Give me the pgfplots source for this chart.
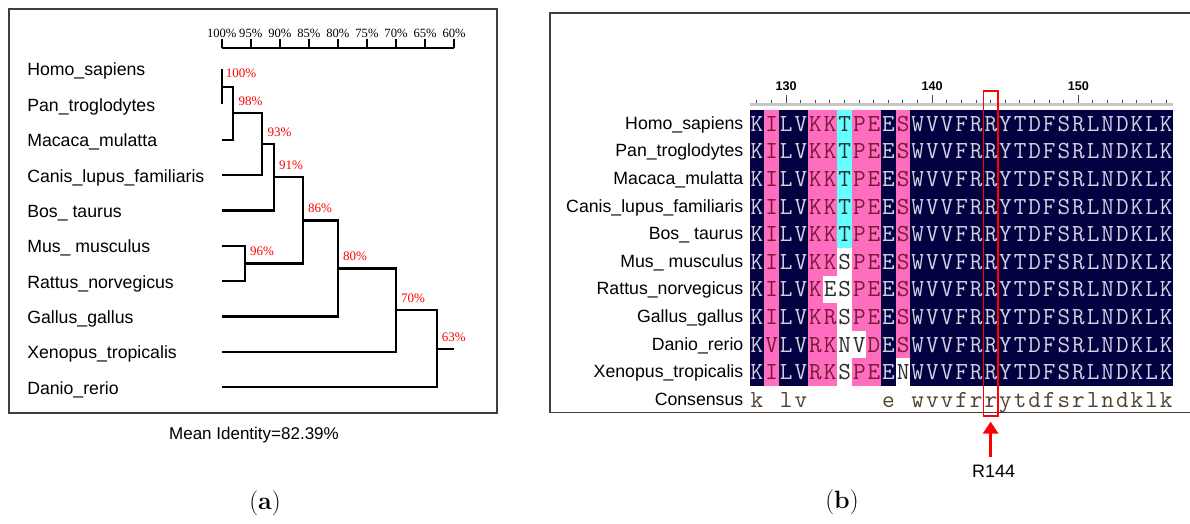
\documentclass[border=0pt]{standalone}
\usepackage{pgfplots}
\pgfplotsset{compat=1.18}
\usepackage{fontspec}
\usetikzlibrary{arrows.meta}
\newfontfamily\lsans{Liberation Sans}
\newfontfamily\lserif{Liberation Serif}
\definecolor{navyc}{RGB}{2,0,64}
\definecolor{pinkc}{RGB}{255,110,190}
\definecolor{cyanc}{RGB}{100,255,255}
\definecolor{tn}{RGB}{210,210,228}
\definecolor{tp}{RGB}{120,25,55}
\definecolor{td}{RGB}{45,45,45}
\definecolor{tc}{RGB}{80,65,50}
\newlength\cw \setlength\cw{14.614pt}
\makeatletter
\def\cells#1{\cells@i#1\cells@end}
\def\cells@end{\cells@end}
\def\cells@i#1{%
  \ifx#1\cells@end\else
    \ifcat\relax\noexpand#1#1\else\makebox[\cw][c]{#1}\fi
    \expandafter\cells@i
  \fi}
\makeatother
\def\cN{\color{tn}}
\def\cP{\color{tp}}
\def\cD{\color{td}}
\def\cC{\color{tc}}
\def\cB{\hspace*{\cw}}
\pgfplotsset{
  dline/.style={black, line width=2.2pt, mark=none},
}
\tikzset{
  pct/.style={red, anchor=west, inner sep=0pt, font=\lserif\fontsize{13}{15}\selectfont, xshift=5pt, yshift=11.8pt},
  nm/.style={anchor=base west, inner sep=0pt, font=\lsans\fontsize{17.7}{20}\selectfont, yshift=-7pt},
  seqrow/.style={anchor=base west, inner sep=0pt, font=\ttfamily\fontsize{24.5}{25}\selectfont, yshift=-7.5pt},
}
\begin{document}
\begin{tikzpicture}
\useasboundingbox (0,0) rectangle (1190pt,-523pt);
% panel frames
\draw[line width=1.8pt, black!75] (9pt,-9pt) rectangle (497pt,-413pt);
\draw[line width=1.8pt, black!75] (1190pt,-13pt) -- (550pt,-13pt) -- (550pt,-412.5pt) -- (1190pt,-412.5pt);

% ---------------- (a) dendrogram ----------------
\begin{axis}[
  at={(221.7pt,-387.3pt)}, anchor=south west,
  scale only axis, width=232.4pt, height=339pt,
  x dir=reverse, xmin=60, xmax=100, ymin=1, ymax=10.585,
  axis x line*=top, axis y line=none,
  x axis line style={-, line width=2.2pt},
  xtick={60,65,70,75,80,85,90,95,100},
  xticklabels={60\%,65\%,70\%,75\%,80\%,85\%,90\%,95\%,100\%},
  xticklabel style={font=\lserif\fontsize{12.6}{14}\selectfont, inner sep=1pt},
  tick align=outside, major tick length=9pt,
  every tick/.style={black, line width=2.2pt},
  every major tick/.append style={black, line width=2.2pt},
  clip=false,
]
\addplot[dline] coordinates {(100,10) (100,9)};
\addplot[dline] coordinates {(100,9.5) (98,9.5) (98,8) (100,8)};
\addplot[dline] coordinates {(98,8.75) (93,8.75) (93,7) (100,7)};
\addplot[dline] coordinates {(93,7.875) (91,7.875) (91,6) (100,6)};
\addplot[dline] coordinates {(100,5) (96,5) (96,4) (100,4)};
\addplot[dline] coordinates {(91,6.9375) (86,6.9375) (86,4.5) (96,4.5)};
\addplot[dline] coordinates {(86,5.71875) (80,5.71875) (80,3) (100,3)};
\addplot[dline] coordinates {(80,4.359) (70,4.359) (70,2) (100,2)};
\addplot[dline] coordinates {(70,3.18) (63,3.18) (63,1) (100,1)};
\addplot[dline] coordinates {(63,2.09) (60,2.09)};
\node[pct, xshift=-1pt, yshift=1.2pt] at (axis cs:100,9.5) {100\%};
\node[pct] at (axis cs:98,8.75) {98\%};
\node[pct] at (axis cs:93,7.875) {93\%};
\node[pct] at (axis cs:91,6.9375) {91\%};
\node[pct] at (axis cs:96,4.5) {96\%};
\node[pct] at (axis cs:86,5.71875) {86\%};
\node[pct] at (axis cs:80,4.359) {80\%};
\node[pct] at (axis cs:70,3.18) {70\%};
\node[pct] at (axis cs:63,2.09) {63\%};
\node[nm] at (axis cs:133.5,10) {Homo\_sapiens};
\node[nm] at (axis cs:133.5,9) {Pan\_troglodytes};
\node[nm] at (axis cs:133.5,8) {Macaca\_mulatta};
\node[nm] at (axis cs:133.5,7) {Canis\_lupus\_familiaris};
\node[nm] at (axis cs:133.5,6) {Bos\_ taurus};
\node[nm] at (axis cs:133.5,5) {Mus\_ musculus};
\node[nm] at (axis cs:133.5,4) {Rattus\_norvegicus};
\node[nm] at (axis cs:133.5,3) {Gallus\_gallus};
\node[nm] at (axis cs:133.5,2) {Xenopus\_tropicalis};
\node[nm] at (axis cs:133.5,1) {Danio\_rerio};
\end{axis}

% ---------------- (b) alignment ----------------
\begin{axis}[
  at={(749.5pt,-413.6pt)}, anchor=south west,
  scale only axis, width=423.8pt, height=309.1pt,
  xmin=127.5, xmax=156.5, ymin=-0.5, ymax=10.7,
  axis x line*=top, axis y line*=left,
  x axis line style={-, draw=black!22, line width=3pt},
  y axis line style={-, draw=none},
  xtick={130,140,150}, xticklabels={130,140,150},
  minor xtick={128,...,156},
  xticklabel style={font=\lsans\bfseries\fontsize{12.6}{14}\selectfont},
  tick align=outside, major tick length=10pt, minor tick length=5pt,
  xtick style={black!70, line width=1pt},
  ytick={0,...,10},
  yticklabels={Consensus,Xenopus\_tropicalis,Danio\_rerio,Gallus\_gallus,Rattus\_norvegicus,Mus\_ musculus,Bos\_ taurus,Canis\_lupus\_familiaris,Macaca\_mulatta,Pan\_troglodytes,Homo\_sapiens},
  ytick style={draw=none},
  yticklabel style={font=\lsans\fontsize{17.7}{20}\selectfont, anchor=base east, inner sep=0pt, xshift=4pt, yshift=-5.5pt},
  clip=false,
]
\addplot[fill=navyc, draw=none] coordinates {(127.5,0.5) (156.5,0.5) (156.5,10.5) (127.5,10.5)};
\addplot[fill=pinkc, draw=none] coordinates {(128.5,0.5) (129.5,0.5) (129.5,10.5) (128.5,10.5)};
\addplot[fill=pinkc, draw=none] coordinates {(131.5,0.5) (133.5,0.5) (133.5,10.5) (131.5,10.5)};
\addplot[fill=pinkc, draw=none] coordinates {(134.5,0.5) (136.5,0.5) (136.5,10.5) (134.5,10.5)};
\addplot[fill=pinkc, draw=none] coordinates {(137.5,0.5) (138.5,0.5) (138.5,10.5) (137.5,10.5)};
\addplot[fill=cyanc, draw=none] coordinates {(133.5,5.5) (134.5,5.5) (134.5,10.5) (133.5,10.5)};
\addplot[fill=white, draw=none] coordinates {(133.5,0.5) (134.5,0.5) (134.5,5.5) (133.5,5.5)};
\addplot[fill=white, draw=none] coordinates {(132.5,3.5) (133.5,3.5) (133.5,4.5) (132.5,4.5)};
\addplot[fill=white, draw=none] coordinates {(134.5,1.5) (135.5,1.5) (135.5,2.5) (134.5,2.5)};
\addplot[fill=white, draw=none] coordinates {(137.5,0.5) (138.5,0.5) (138.5,1.5) (137.5,1.5)};
\node[seqrow] at (axis cs:127.5,10) {\cells{\cN K\cP I\cN LV\cP KK\cD T\cP PE\cN E\cP S\cN WVVFRRYTDFSRLNDKLK}};
\node[seqrow] at (axis cs:127.5,9) {\cells{\cN K\cP I\cN LV\cP KK\cD T\cP PE\cN E\cP S\cN WVVFRRYTDFSRLNDKLK}};
\node[seqrow] at (axis cs:127.5,8) {\cells{\cN K\cP I\cN LV\cP KK\cD T\cP PE\cN E\cP S\cN WVVFRRYTDFSRLNDKLK}};
\node[seqrow] at (axis cs:127.5,7) {\cells{\cN K\cP I\cN LV\cP KK\cD T\cP PE\cN E\cP S\cN WVVFRRYTDFSRLNDKLK}};
\node[seqrow] at (axis cs:127.5,6) {\cells{\cN K\cP I\cN LV\cP KK\cD T\cP PE\cN E\cP S\cN WVVFRRYTDFSRLNDKLK}};
\node[seqrow] at (axis cs:127.5,5) {\cells{\cN K\cP I\cN LV\cP KK\cD S\cP PE\cN E\cP S\cN WVVFRRYTDFSRLNDKLK}};
\node[seqrow] at (axis cs:127.5,4) {\cells{\cN K\cP I\cN LV\cP K\cD ES\cP PE\cN E\cP S\cN WVVFRRYTDFSRLNDKLK}};
\node[seqrow] at (axis cs:127.5,3) {\cells{\cN K\cP I\cN LV\cP KR\cD S\cP PE\cN E\cP S\cN WVVFRRYTDFSRLNDKLK}};
\node[seqrow] at (axis cs:127.5,2) {\cells{\cN K\cP V\cN LV\cP RK\cD NV\cP D\cN E\cP S\cN WVVFRRYTDFSRLNDKLK}};
\node[seqrow] at (axis cs:127.5,1) {\cells{\cN K\cP I\cN LV\cP RK\cD S\cP PE\cN E\cD N\cN WVVFRRYTDFSRLNDKLK}};
\node[seqrow] at (axis cs:127.5,0) {\cells{\cC k\cB lv\cB\cB\cB\cB\cB e\cB wvvfrrytdfsrlndklk}};
\draw[red, line width=1.5pt] (axis cs:143.5,-0.587) rectangle (axis cs:144.5,11.19);
\draw[red, line width=3pt, -{Triangle[width=15pt,length=12pt]}] (axis cs:144,-2.06) -- (axis cs:144,-0.79);
\node[font=\lsans\fontsize{18}{20}\selectfont] at (axis cs:144.2,-2.6) {R144};
\end{axis}

\node[font=\lsans\fontsize{17}{20}\selectfont] at (254pt,-435pt) {Mean Identity=82.39\%};
\node[font=\fontsize{25}{27}\selectfont] at (265pt,-503pt) {(\textbf{a})};
\node[font=\fontsize{25}{27}\selectfont] at (842pt,-502pt) {(\textbf{b})};
\end{tikzpicture}
\end{document}
